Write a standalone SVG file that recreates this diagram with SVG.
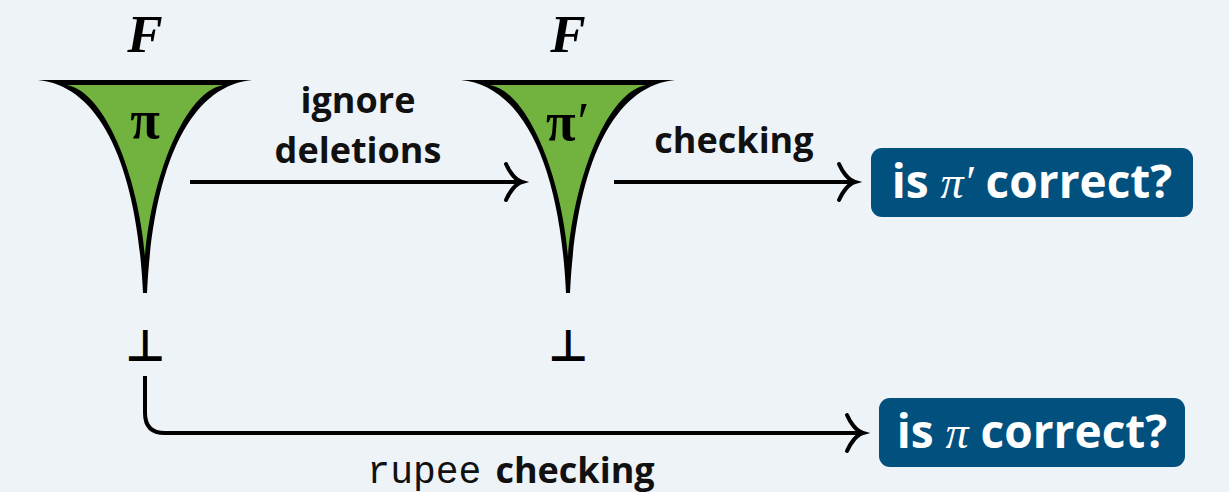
<svg xmlns="http://www.w3.org/2000/svg" width="1229" height="492" viewBox="0 0 1229 492">
<style>
.lbl{font-family:"Open Sans","Liberation Sans",sans-serif;font-weight:700;font-size:36px;fill:#111}
.F{font-family:"Liberation Serif",serif;font-weight:700;font-style:italic;font-size:53px;fill:#000}
.pi{font-family:"Liberation Serif",serif;font-weight:700;font-size:54px;fill:#000}
.box{fill:#02507e}
.btxt{font-family:"Open Sans","Liberation Sans",sans-serif;font-weight:700;font-size:46px;fill:#fff}
.bpi{font-family:"Liberation Serif",serif;font-weight:400;font-style:italic}
.line{stroke:#000;stroke-width:4;fill:none}
.bot{font-family:"DejaVu Sans",sans-serif;font-weight:700;font-size:44px;fill:#000}
.mono{font-family:"Liberation Mono",monospace;font-size:38px;fill:#111}
</style>
<defs>
<marker id="hook" viewBox="-20 -22 24 44" refX="0" refY="0" markerWidth="24" markerHeight="44" markerUnits="userSpaceOnUse" orient="auto" overflow="visible">
<path d="M-16,-18 C-13,-11 -7,-2 0,0 C-7,2 -13,11 -16,18" stroke="#000" stroke-width="4" fill="none" stroke-linecap="round"/>
</marker>
<g id="funnelShape">
<path d="M38,80 L252,80 C190,86 153,165 147,293 L143,293 C137,165 100,86 38,80 Z" fill="#000"/>
<path d="M67,85 L223,85 C185,92 152,175 145,256 C138,175 105,92 67,85 Z" fill="#72b33f"/>
</g>
</defs>
<rect width="1229" height="492" fill="#eef3f8"/>

<g id="node-pi">
<text class="F" x="145" y="52" text-anchor="middle">F</text>
<use href="#funnelShape"/>
<text class="pi" x="145" y="138" text-anchor="middle">π</text>
<text class="bot" x="145" y="361" text-anchor="middle">⊥</text>
</g>

<g id="node-piprime">
<text class="F" x="568" y="52" text-anchor="middle">F</text>
<use href="#funnelShape" transform="translate(423,0)"/>
<text class="pi" x="546" y="140">π<tspan font-weight="400" dx="2">′</tspan></text>
<text class="bot" x="568" y="361" text-anchor="middle">⊥</text>
</g>

<g id="node-check1">
<rect class="box" x="871" y="148" width="322" height="69" rx="11"/>
<text class="btxt" x="1032" y="198" text-anchor="middle">is <tspan class="bpi">π′</tspan> correct?</text>
</g>

<g id="node-check2">
<rect class="box" x="879" y="398" width="306" height="69" rx="11"/>
<text class="btxt" x="1032" y="448" text-anchor="middle">is <tspan class="bpi">π</tspan> correct?</text>
</g>

<g id="connectors">
<path class="line" d="M190,182 H522" marker-end="url(#hook)"/>
<path class="line" d="M614,182 H855" marker-end="url(#hook)"/>
<path class="line" d="M145,376 V413 Q145,433 165,433 H863" marker-end="url(#hook)"/>
<text class="lbl" x="358" y="113" text-anchor="middle">ignore</text>
<text class="lbl" x="358" y="163" text-anchor="middle">deletions</text>
<text class="lbl" x="734" y="153" text-anchor="middle">checking</text>
<text x="511" y="483" text-anchor="middle"><tspan class="mono">rupee</tspan><tspan class="lbl" dx="14">checking</tspan></text>
</g>
</svg>
